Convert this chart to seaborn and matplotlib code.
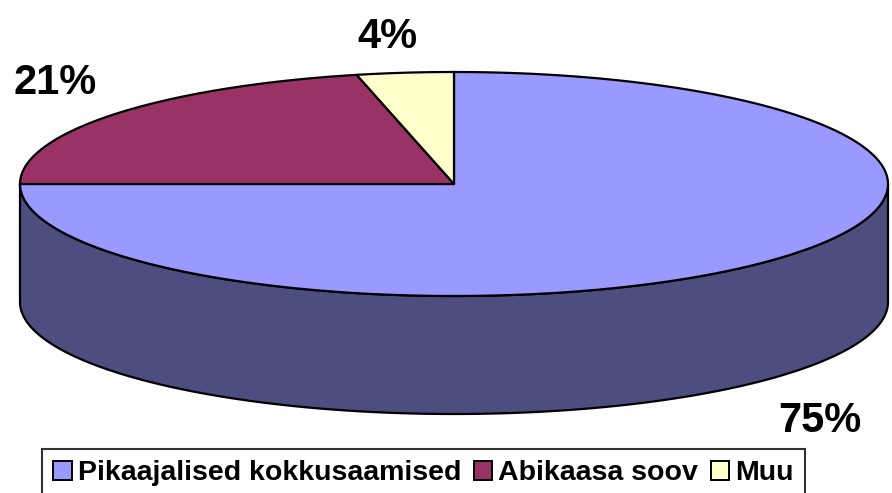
import numpy as np
import seaborn as sns
import matplotlib.pyplot as plt
from matplotlib.patches import Patch
from matplotlib.colors import to_rgb

labels = ["Pikaajalised kokkusaamised", "Abikaasa soov", "Muu"]
shares = [75.0, 21.4, 3.6]
colors = ["#9999FF", "#993366", "#FFFFCC"]

# label placement (pixels)
label_pos = [(820, 421), (55, 83), (387, 37)]

sns.set_theme(style="white")
plt.rcParams['font.family'] = ['Liberation Sans', 'DejaVu Sans']
plt.rcParams['text.color'] = 'black'

fig = plt.figure(figsize=(8.92, 4.93), dpi=100)
ax = fig.add_axes([0, 0, 1, 1])
ax.set_xlim(0, 892)
ax.set_ylim(493, 0)
ax.axis("off")

cx, cy, rx, ry, depth = 454, 184, 434, 112, 118


def ell(t, dy=0):
    t = np.radians(t)
    return cx + rx * np.cos(t), cy - ry * np.sin(t) + dy


fracs = np.array(shares) / sum(shares)
starts = 90 - 360 * np.concatenate([[0], np.cumsum(fracs)[:-1]])
ends = starts - 360 * fracs

# side walls on the front half
for s, e, c in zip(starts, ends, colors):
    dark = tuple(v * 0.5 for v in to_rgb(c))
    for k in (-1, 0):
        a = max(e, 180 + 360 * k)
        b = min(s, 360 + 360 * k)
        if a >= b:
            continue
        t = np.linspace(a, b, 200)
        x1, y1 = ell(t)
        x2, y2 = ell(t[::-1], depth)
        ax.fill(np.r_[x1, x2], np.r_[y1, y2], color=dark, ec="black", lw=1.6, zorder=1)

# top face
for s, e, c in zip(starts, ends, colors):
    t = np.linspace(e, s, 300)
    x, y = ell(t)
    ax.fill(np.r_[cx, x], np.r_[cy, y], color=c, ec="black", lw=1.6, zorder=2)

for (px, py), v in zip(label_pos, shares):
    ax.text(px, py, f"{v:.0f}%", ha="center", va="center", fontsize=30,
            fontweight="bold", color="black")

handles = [Patch(facecolor=c, edgecolor="black", lw=1.4, label=l)
           for c, l in zip(colors, labels)]
leg = ax.legend(handles=handles, loc="upper left", bbox_to_anchor=(42, 449),
                bbox_transform=ax.transData, ncol=3, frameon=True, fancybox=False,
                borderaxespad=0, borderpad=0.4, handlelength=0.65, handleheight=0.65,
                handletextpad=0.2, columnspacing=0.45,
                prop={"size": 20.5, "weight": "bold"})
leg.get_frame().set_edgecolor("black")
leg.get_frame().set_linewidth(1.5)
for txt in leg.get_texts():
    txt.set_color("black")

fig.savefig("out.png", dpi=100)
